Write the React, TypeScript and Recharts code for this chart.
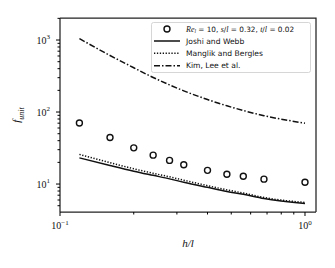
import { ComposedChart, Line, Scatter, XAxis, YAxis, Legend } from 'recharts'

// h/l sample points
const hl = [0.12, 0.16, 0.2, 0.24, 0.28, 0.32, 0.4, 0.48, 0.56, 0.68, 1.0]
// Re_l = 10, s/l = 0.32, t/l = 0.02
const present = [70.5, 44.3, 31.8, 25.2, 21.3, 18.5, 15.5, 13.7, 12.8, 11.7, 10.6]
const joshiWebb = [23.1, 18.1, 15.1, 13.2, 11.8, 10.6, 9.0, 7.9, 7.2, 6.3, 5.35]
const manglikBergles = [25.8, 19.8, 16.3, 14.1, 12.6, 11.3, 9.5, 8.3, 7.5, 6.5, 5.55]
const kimLee = [1047, 610, 412, 302, 238, 197, 149, 122, 105, 89, 70]

const xMajor = [0.1, 1]
const xMinor = [0.2, 0.3, 0.4, 0.5, 0.6, 0.7, 0.8, 0.9]
const yMajor = [10, 100, 1000]
const yMinor = [5, 6, 7, 8, 9, 20, 30, 40, 50, 60, 70, 80, 90, 200, 300, 400, 500, 600, 700, 800, 900, 2000]

const X_DOMAIN = [0.1, 1.109]
const Y_DOMAIN = [4.09, 2022]

const rows = hl.map((x, i) => ({
  x,
  present: present[i],
  jw: joshiWebb[i],
  mb: manglikBergles[i],
  kim: kimLee[i],
}))

const SERIF = 'Liberation Serif, DejaVu Serif, serif'
const SANS = 'DejaVu Sans, sans-serif'
const INK = '#111'
const SPINE = '#222'

// plot box (matches chart margins below)
const PLOT = { left: 60, top: 18, right: 316, bottom: 212 }

function XTick({ x, y, payload }: any) {
  const v = payload.value
  const major = xMajor.includes(v)
  const exp = Math.round(Math.log10(v))
  return (
    <g>
      <line x1={x} x2={x} y1={y} y2={y + (major ? 4 : 2.5)} stroke="#000" strokeWidth={1} />
      {major && (
        <text x={x} y={y + 17} textAnchor="middle" fontFamily={SERIF} fontSize={10} fill={INK}>
          10<tspan dy={-4.5} fontSize={7}>{exp < 0 ? '\u2212' + Math.abs(exp) : exp}</tspan>
        </text>
      )}
    </g>
  )
}

function YTick({ x, y, payload }: any) {
  const v = payload.value
  const major = yMajor.includes(v)
  const exp = Math.round(Math.log10(v))
  return (
    <g>
      <line x1={x} x2={x - (major ? 4 : 2.5)} y1={y} y2={y} stroke="#000" strokeWidth={1} />
      {major && (
        <text x={x - 10} y={y + 3.5} textAnchor="end" fontFamily={SERIF} fontSize={10} fill={INK}>
          10<tspan dy={-4.5} fontSize={7}>{exp}</tspan>
        </text>
      )}
    </g>
  )
}

function OpenCircle({ cx, cy }: any) {
  return <circle cx={cx} cy={cy} r={3} fill="none" stroke={INK} strokeWidth={1.4} />
}

function LegendBox() {
  const tx = 35
  const it = { fontStyle: 'italic', fontFamily: SERIF } as any
  return (
    <svg width={160} height={51}>
      <rect x={0.5} y={0.5} width={159} height={50} rx={2} fill="#fff" fillOpacity={0.8} stroke="#ccc" strokeWidth={0.8} />
      <circle cx={16} cy={7} r={3} fill="none" stroke={INK} strokeWidth={1.4} />
      <text x={tx} y={9.5} fontFamily={SANS} fontSize={7.3} fill={INK}>
        <tspan {...it} fontSize={8}>Re</tspan>
        <tspan {...it} fontSize={5.5} dy={1.8}>l</tspan>
        <tspan dy={-1.8}> = 10, </tspan>
        <tspan {...it} fontSize={8}>s</tspan>
        <tspan>/</tspan>
        <tspan {...it} fontSize={8}>l</tspan>
        <tspan> = 0.32, </tspan>
        <tspan {...it} fontSize={8}>t</tspan>
        <tspan>/</tspan>
        <tspan {...it} fontSize={8}>l</tspan>
        <tspan> = 0.02</tspan>
      </text>
      <line x1={3} x2={29} y1={19} y2={19} stroke={INK} strokeWidth={1.5} />
      <text x={tx} y={21.7} fontFamily={SANS} fontSize={7.6} fill={INK}>Joshi and Webb</text>
      <line x1={3} x2={29} y1={31.3} y2={31.3} stroke={INK} strokeWidth={1.5} strokeDasharray="1.3 1.6" />
      <text x={tx} y={34} fontFamily={SANS} fontSize={7.6} fill={INK}>Manglik and Bergles</text>
      <line x1={3} x2={29} y1={43.7} y2={43.7} stroke={INK} strokeWidth={1.5} strokeDasharray="6 2 1.5 2" />
      <text x={tx} y={46.4} fontFamily={SANS} fontSize={7.6} fill={INK}>Kim, Lee et al.</text>
    </svg>
  )
}

export default function App() {
  return (
    <div style={{ position: 'relative', margin: -8, width: 335, height: 268, background: '#fff' }}>
      <svg
        width={335}
        height={268}
        style={{ position: 'absolute', left: 0, top: 0, pointerEvents: 'none', zIndex: 2 }}
      >
        {/* top / right spines */}
        <polyline
          points={`${PLOT.left},${PLOT.top} ${PLOT.right},${PLOT.top} ${PLOT.right},${PLOT.bottom}`}
          fill="none"
          stroke={SPINE}
          strokeWidth={1.25}
        />
      </svg>
      <ComposedChart
        width={335}
        height={268}
        data={rows}
        margin={{ top: PLOT.top, right: 335 - PLOT.right, bottom: 0, left: 0 }}
      >
        <XAxis
          dataKey="x"
          type="number"
          scale="log"
          domain={X_DOMAIN}
          allowDataOverflow
          ticks={[...xMajor, ...xMinor]}
          tick={<XTick />}
          tickLine={false}
          tickSize={0}
          tickMargin={0}
          interval={0}
          height={268 - PLOT.bottom}
          axisLine={{ stroke: SPINE, strokeWidth: 1.25 }}
        />
        <YAxis
          type="number"
          scale="log"
          domain={Y_DOMAIN}
          allowDataOverflow
          ticks={[...yMajor, ...yMinor]}
          tick={<YTick />}
          tickLine={false}
          tickSize={0}
          tickMargin={0}
          interval={0}
          width={PLOT.left}
          axisLine={{ stroke: SPINE, strokeWidth: 1.25 }}
        />
        <Legend
          layout="horizontal"
          verticalAlign="middle"
          align="center"
          content={() => <LegendBox />}
          wrapperStyle={{ position: 'absolute', left: 151, top: 22, width: 160, height: 51 }}
        />
        <Line dataKey="jw" type="monotone" stroke={INK} strokeWidth={1.5} dot={false} activeDot={false} isAnimationActive={false} />
        <Line dataKey="mb" type="monotone" stroke={INK} strokeWidth={1.5} strokeDasharray="1.3 1.6" dot={false} activeDot={false} isAnimationActive={false} />
        <Line dataKey="kim" type="monotone" stroke={INK} strokeWidth={1.5} strokeDasharray="6 2 1.5 2" dot={false} activeDot={false} isAnimationActive={false} />
        <Scatter dataKey="present" shape={<OpenCircle />} isAnimationActive={false} />
      </ComposedChart>
      <div style={{ position: 'absolute', left: 188, top: 243, transform: 'translate(-50%, -50%)', fontFamily: SERIF, fontStyle: 'italic', fontSize: 11, color: INK, whiteSpace: 'nowrap' }}>
        h/l
      </div>
      <div style={{ position: 'absolute', left: 18, top: 115, transform: 'translate(-50%, -50%) rotate(-90deg)', fontFamily: SERIF, fontStyle: 'italic', fontSize: 11, color: INK, whiteSpace: 'nowrap' }}>
        f<sub style={{ fontSize: 8 }}>unit</sub>
      </div>
    </div>
  )
}
